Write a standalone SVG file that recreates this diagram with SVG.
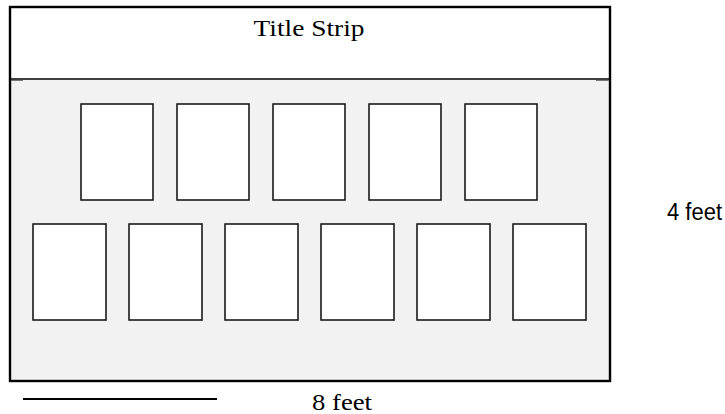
<svg xmlns="http://www.w3.org/2000/svg" width="725" height="414" viewBox="0 0 725 414">
<style>
.panel{fill:#ffffff;stroke:#1a1a1a;stroke-width:1.6}
</style>
<rect x="0" y="0" width="725" height="414" fill="#ffffff"/>
<g id="board">
<rect x="10" y="79" width="600" height="302" fill="#f2f2f2"/>
<rect x="10" y="7" width="600" height="374" fill="none" stroke="#000" stroke-width="2.4"/>
<line x1="10" y1="79" x2="610" y2="79" stroke="#000" stroke-width="1.4"/>
<line x1="11" y1="80.5" x2="23" y2="80.5" stroke="#777" stroke-width="1"/>
<line x1="596" y1="80.5" x2="609" y2="80.5" stroke="#777" stroke-width="1"/>
<text x="309" y="36" font-family="'Liberation Serif', 'Times New Roman', serif" font-size="24" fill="#000" text-anchor="middle" textLength="111" lengthAdjust="spacingAndGlyphs">Title Strip</text>
</g>
<g id="top-row">
<rect class="panel" x="81" y="104" width="72" height="96"/>
<rect class="panel" x="177" y="104" width="72" height="96"/>
<rect class="panel" x="273" y="104" width="72" height="96"/>
<rect class="panel" x="369" y="104" width="72" height="96"/>
<rect class="panel" x="465" y="104" width="72" height="96"/>
</g>
<g id="bottom-row">
<rect class="panel" x="33" y="224" width="73" height="96"/>
<rect class="panel" x="129" y="224" width="73" height="96"/>
<rect class="panel" x="225" y="224" width="73" height="96"/>
<rect class="panel" x="321" y="224" width="73" height="96"/>
<rect class="panel" x="417" y="224" width="73" height="96"/>
<rect class="panel" x="513" y="224" width="73" height="96"/>
</g>
<g id="scale">
<line x1="23" y1="399" x2="217" y2="399" stroke="#000" stroke-width="2"/>
<text x="342" y="410" font-family="'Liberation Serif', 'Times New Roman', serif" font-size="24" fill="#000" text-anchor="middle" textLength="60" lengthAdjust="spacingAndGlyphs">8 feet</text>
<text x="667" y="220" font-family="'Liberation Sans', Arial, sans-serif" font-size="23" fill="#000" textLength="55" lengthAdjust="spacingAndGlyphs">4 feet</text>
</g>
</svg>
